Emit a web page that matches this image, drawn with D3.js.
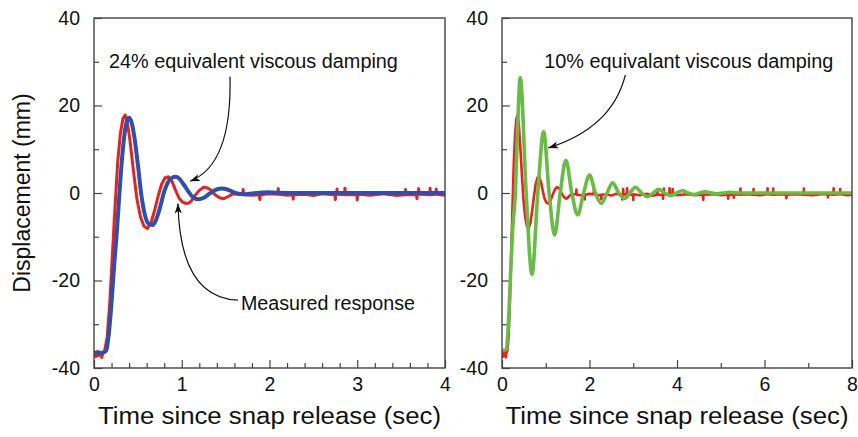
<!DOCTYPE html>
<html>
<head>
<meta charset="utf-8">
<script src="https://cdn.jsdelivr.net/npm/d3@7"></script>
<style>
  body { margin: 0; background: #fff; }
  text { font-family: "Liberation Sans", Arial, sans-serif; fill: #111; }
</style>
</head>
<body>
<svg id="chart" width="858" height="437"></svg>
<script>
// measured response (red) - [time sec, displacement mm], shared by both panels
const measured = [
  [0, -36.6], [0.02, -37.4], [0.04, -36.2], [0.05, -37.2], [0.07, -36.4], [0.09, -37.6], [0.1, -36.5],
  [0.12, -36.2], [0.15, -33], [0.18, -25], [0.21, -14], [0.24, -3], [0.27, 7], [0.30, 13.5],
  [0.33, 17], [0.355, 17.8], [0.38, 16.2], [0.41, 12], [0.45, 5], [0.49, -1.5], [0.53, -5.5],
  [0.57, -7.6], [0.61, -8.1], [0.65, -6.8], [0.69, -4], [0.73, -0.8], [0.77, 2], [0.81, 3.5],
  [0.85, 3.7], [0.89, 2.6], [0.93, 0.6], [0.97, -1.2], [1.01, -2.1], [1.05, -2.4], [1.08, -2.3],
  [1.11, -1.8], [1.15, -0.6], [1.2, 0.6], [1.25, 1.3], [1.29, 1.2], [1.33, 0.7], [1.38, -0.4],
  [1.43, -1.1], [1.48, -1.3], [1.53, -0.8], [1.58, -0.2], [1.63, -0.3],
  [1.695, -0.3], [1.7, 0.8], [1.705, -0.4], [1.8, -0.5], [1.885, -0.4], [1.89, -1.5], [1.895, -0.4],
  [2.0, -0.2], [2.095, -0.3], [2.1, 1.0], [2.105, -0.3], [2.2, -0.5], [2.265, -0.4], [2.27, -1.4],
  [2.275, -0.4], [2.4, -0.3], [2.5, -0.6], [2.6, -0.2], [2.745, -0.4], [2.75, -1.5], [2.755, -0.4],
  [2.765, -0.3], [2.77, 0.9], [2.775, -0.3], [2.855, -0.4], [2.86, 1.1], [2.865, -0.4],
  [2.995, -0.4], [3.0, -1.6], [3.005, -0.3], [3.15, -0.5], [3.3, -0.2], [3.45, -0.6],
  [3.545, -0.4], [3.55, 0.8], [3.555, -0.4], [3.675, -0.4], [3.68, -1.3], [3.685, -0.3],
  [3.695, -0.3], [3.7, 1.0], [3.705, -0.3], [3.825, -0.4], [3.83, 1.1], [3.835, -0.4],
  [3.895, -0.3], [3.9, 0.9], [3.905, -0.3], [4.0, -0.5], [4.2, -0.3], [4.4, -0.5],
  [4.595, -0.4], [4.6, -1.6], [4.605, -0.4], [4.8, -0.3], [5.0, -0.5], [5.165, -0.4], [5.17, -1.3],
  [5.175, -0.4], [5.295, -0.4], [5.3, -1.1], [5.305, -0.3], [5.445, -0.4], [5.45, 1.0], [5.455, -0.4],
  [5.6, -0.3], [5.745, -0.4], [5.75, 0.9], [5.755, -0.4], [5.9, -0.5], [6.065, -0.3], [6.07, 1.1],
  [6.075, -0.3], [6.195, -0.4], [6.2, 1.0], [6.205, -0.4], [6.35, -0.3], [6.495, -0.4], [6.5, -1.2],
  [6.505, -0.4], [6.7, -0.3], [6.895, -0.4], [6.9, 1.0], [6.905, -0.4], [7.1, -0.5], [7.3, -0.3],
  [7.445, -0.3], [7.45, -1.0], [7.455, -0.3], [7.575, -0.4], [7.58, 1.1], [7.585, -0.4],
  [7.725, -0.3], [7.73, 0.9], [7.735, -0.3], [7.9, -0.5], [8.0, -0.4]
];

// 24% equivalent viscous damping model (blue)
const damp24 = [
  [0, -36.5], [0.1, -36.5], [0.14, -36], [0.17, -32], [0.2, -25], [0.23, -16.5], [0.26, -9],
  [0.29, 0], [0.32, 8], [0.35, 13.8], [0.38, 16.7], [0.403, 17.2], [0.43, 16], [0.46, 12.8],
  [0.5, 6.5], [0.54, -0.5], [0.58, -5], [0.62, -7], [0.669, -7.3], [0.71, -6], [0.75, -3.5],
  [0.8, 0.3], [0.85, 2.7], [0.89, 3.5], [0.931, 3.7], [0.97, 3.3], [1.02, 2], [1.07, 0.5],
  [1.12, -0.8], [1.19, -1.45], [1.25, -1.1], [1.3, -0.4], [1.35, 0.3], [1.4, 0.85], [1.455, 1.05],
  [1.52, 0.8], [1.6, 0.1], [1.72, -0.3], [1.85, 0], [1.98, 0.2], [2.1, 0.05], [2.3, 0], [4, 0]
];

// 10% equivalent viscous damping model (green)
const damp10 = [
  [0, -36], [0.1, -35.8], [0.14, -31], [0.19, -20], [0.245, -8], [0.305, 0], [0.36, 16],
  [0.418, 26.4], [0.552, 0], [0.685, -18.6], [0.818, 0], [0.951, 14], [1.077, 0], [1.203, -9.6],
  [1.33, 0], [1.46, 7.5], [1.595, 0], [1.73, -5], [1.865, 0], [2.0, 4.1], [2.135, 0], [2.27, -2.4],
  [2.4, 0], [2.53, 2.35], [2.665, 0], [2.8, -1.2], [2.925, 0], [3.05, 1.3], [3.19, 0], [3.33, -0.85],
  [3.455, 0], [3.58, 0.85], [3.72, 0], [3.86, -0.6], [3.99, 0], [4.12, 0.5], [4.255, 0], [4.39, -0.35],
  [4.52, 0], [4.65, 0.3], [4.79, 0], [4.92, -0.2], [5.06, 0], [5.2, 0.15], [5.5, 0], [8, 0]
];

const dispTicks = [-40, -20, 0, 20, 40];
const dispMinorTicks = [-30, -10, 10, 30];
const leftTimeTicks = [0, 1, 2, 3, 4];
const leftTimeMinor = [0.2, 0.4, 0.6, 0.8, 1.2, 1.4, 1.6, 1.8, 2.2, 2.4, 2.6, 2.8, 3.2, 3.4, 3.6, 3.8];
const rightTimeTicks = [0, 2, 4, 6, 8];
const rightTimeMinor = [1, 3, 5, 7];

const RED = "#e8221c", BLUE = "#2f4fab", GREEN = "#68bb45";

const svg = d3.select("#chart");
const plotTop = 18, plotBottom = 368;

svg.append("defs").append("marker")
    .attr("id", "arrow")
    .attr("viewBox", "0 -5 10 10")
    .attr("refX", 10).attr("refY", 0)
    .attr("markerUnits", "userSpaceOnUse")
    .attr("markerWidth", 10).attr("markerHeight", 10)
    .attr("orient", "auto")
  .append("path")
    .attr("d", "M0,-3.6L10,0L0,3.6L2.5,0Z")
    .attr("fill", "#111");

function drawPanel(p) {
  const x = d3.scaleLinear().domain(p.domain).range([p.left, p.right]);
  const y = d3.scaleLinear().domain([-40, 40]).range([plotBottom, plotTop]);
  const g = svg.append("g");

  // clip
  g.append("clipPath").attr("id", p.id + "-clip")
    .append("rect").attr("x", p.left).attr("y", plotTop)
    .attr("width", p.right - p.left).attr("height", plotBottom - plotTop);

  // axes
  g.append("g").attr("transform", "translate(0," + plotBottom + ")")
    .call(d3.axisBottom(x).tickValues(p.ticks).tickFormat(d => String(d))
      .tickSizeInner(-8).tickSizeOuter(0).tickPadding(9));
  g.append("g").attr("transform", "translate(0," + plotBottom + ")")
    .call(d3.axisBottom(x).tickValues(p.minor).tickFormat("").tickSizeInner(-5).tickSizeOuter(0));
  g.append("g").attr("transform", "translate(" + p.left + ",0)")
    .call(d3.axisLeft(y).tickValues(dispTicks).tickFormat(d => String(d))
      .tickSizeInner(-8).tickSizeOuter(0).tickPadding(14));
  g.append("g").attr("transform", "translate(" + p.left + ",0)")
    .call(d3.axisLeft(y).tickValues(dispMinorTicks).tickFormat("").tickSizeInner(-5).tickSizeOuter(0));

  g.selectAll(".domain").remove();
  g.selectAll(".tick line").attr("stroke", "#444").attr("stroke-width", 1.2);
  g.selectAll(".tick text").attr("font-size", 19.5).attr("fill", "#111");

  // lines
  const lines = g.append("g").attr("clip-path", "url(#" + p.id + "-clip)");
  p.series.forEach(s => {
    lines.append("path")
      .datum(s.data)
      .attr("fill", "none")
      .attr("stroke", s.color)
      .attr("stroke-width", s.width)
      .attr("stroke-linejoin", "round")
      .attr("d", d3.line().x(d => x(d[0])).y(d => y(d[1])).curve(s.curve));
  });

  // frame
  g.append("rect")
    .attr("x", p.left).attr("y", plotTop)
    .attr("width", p.right - p.left).attr("height", plotBottom - plotTop)
    .attr("fill", "none").attr("stroke", "#444").attr("stroke-width", 1.4);

  // x title
  g.append("text")
    .attr("x", (p.left + p.right) / 2).attr("y", 424)
    .attr("text-anchor", "middle")
    .attr("font-size", 23)
    .attr("textLength", 343).attr("lengthAdjust", "spacingAndGlyphs")
    .text("Time since snap release (sec)");

  // annotations
  p.notes.forEach(n => {
    g.append("text")
      .attr("x", x(n.text[0])).attr("y", y(n.text[1]))
      .attr("font-size", 20)
      .attr("textLength", n.len).attr("lengthAdjust", "spacingAndGlyphs")
      .text(n.label);
    const path = d3.path();
    path.moveTo(x(n.from[0]), y(n.from[1]));
    path.quadraticCurveTo(x(n.ctrl[0]), y(n.ctrl[1]), x(n.to[0]), y(n.to[1]));
    g.append("path")
      .attr("d", path.toString())
      .attr("fill", "none").attr("stroke", "#111").attr("stroke-width", 1.2)
      .attr("marker-end", "url(#arrow)");
  });
}

drawPanel({
  id: "left", domain: [0, 4], left: 94, right: 445,
  ticks: leftTimeTicks, minor: leftTimeMinor,
  series: [
    { data: measured, color: RED, width: 3, curve: d3.curveLinear },
    { data: damp24, color: BLUE, width: 4, curve: d3.curveMonotoneX }
  ],
  notes: [
    { label: "24% equivalent viscous damping", text: [0.17, 28.6], len: 289,
      from: [1.55, 26.6], ctrl: [1.573, 6.4], to: [1.094, 2.7] },
    { label: "Measured response", text: [1.675, -26.7], len: 174,
      from: [1.64, -24.5], ctrl: [0.98, -24], to: [0.957, -2.4] }
  ]
});

drawPanel({
  id: "right", domain: [0, 8], left: 502, right: 852,
  ticks: rightTimeTicks, minor: rightTimeMinor,
  series: [
    { data: measured, color: RED, width: 2.6, curve: d3.curveLinear },
    { data: damp10, color: GREEN, width: 3.6, curve: d3.curveMonotoneX }
  ],
  notes: [
    { label: "10% equivalant viscous damping", text: [0.967, 28.6], len: 289,
      from: [2.82, 27], ctrl: [2.52, 14.9], to: [1.058, 10.3] }
  ]
});

// y title
svg.append("text")
  .attr("transform", "translate(30,193) rotate(-90)")
  .attr("text-anchor", "middle")
  .attr("font-size", 23)
  .text("Displacement (mm)");
</script>
</body>
</html>
